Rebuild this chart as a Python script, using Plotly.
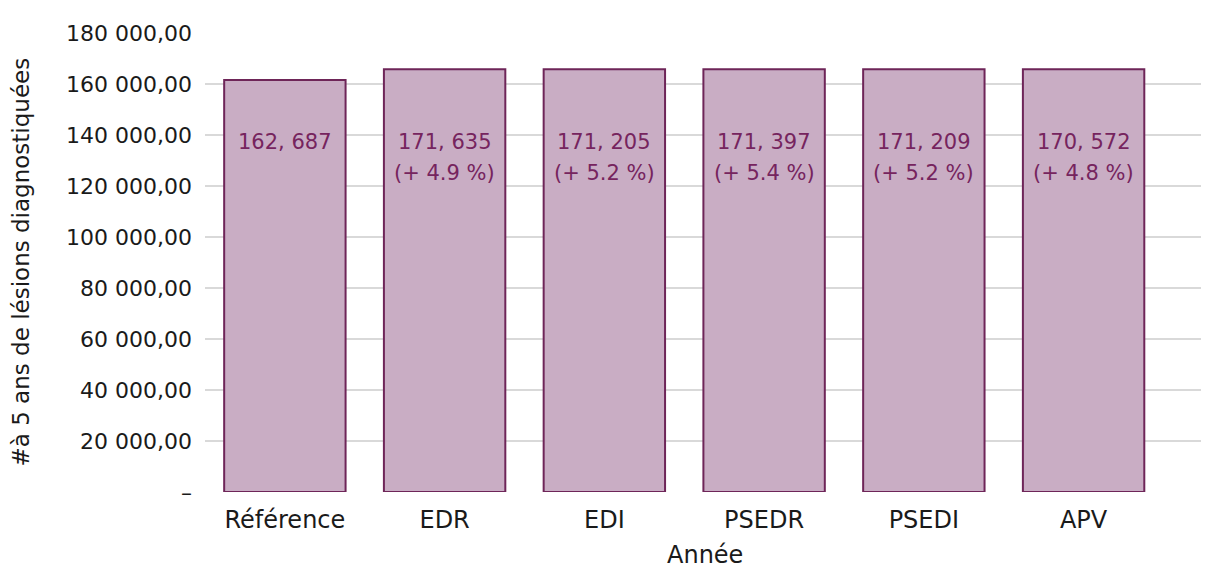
import plotly.graph_objects as go

categories = ["Référence", "EDR", "EDI", "PSEDR", "PSEDI", "APV"]
bar_values = [161600, 165800, 165800, 165800, 165800, 165800]
value_labels = ["162, 687", "171, 635", "171, 205", "171, 397", "171, 209", "170, 572"]
pct_labels = ["", "(+ 4.9 %)", "(+ 5.2 %)", "(+ 5.4 %)", "(+ 5.2 %)", "(+ 4.8 %)"]
y_tickvals = [0, 20000, 40000, 60000, 80000, 100000, 120000, 140000, 160000, 180000]
y_ticktext = ["–", "20 000,00", "40 000,00", "60 000,00", "80 000,00", "100 000,00",
              "120 000,00", "140 000,00", "160 000,00", "180 000,00"]

FONT = "'DejaVu Sans', sans-serif"
TEXT_COLOR = "#76245e"
INK = "#1a1a1a"

fig = go.Figure()
fig.add_trace(go.Bar(
    x=list(range(len(categories))), y=bar_values,
    marker=dict(color="#c9adc4", line=dict(color="#6e2558", width=2)),
    width=0.76, hoverinfo="skip",
))

annotations = []
for i, (v, p) in enumerate(zip(value_labels, pct_labels)):
    annotations.append(dict(x=i, y=137250, xref="x", yref="y", text=v,
                            showarrow=False, yanchor="middle", xanchor="center",
                            font=dict(family=FONT, size=21, color=TEXT_COLOR)))
    if p:
        annotations.append(dict(x=i, y=125100, xref="x", yref="y", text=p,
                                showarrow=False, yanchor="middle", xanchor="center",
                                font=dict(family=FONT, size=21, color=TEXT_COLOR)))
annotations.append(dict(x=0, y=0.5, xref="paper", yref="paper",
                        text="#à 5 ans de lésions diagnostiquées", textangle=-90,
                        showarrow=False, xanchor="center", yanchor="middle", xshift=-185,
                        font=dict(family=FONT, size=23, color=INK)))
annotations.append(dict(x=0.5, y=0, xref="paper", yref="paper", text="Année",
                        showarrow=False, xanchor="center", yanchor="middle", yshift=-63,
                        font=dict(family=FONT, size=24, color=INK)))

# page has an 8px body margin: figure drawn at (8, 8)
fig.update_layout(
    width=1201, height=561,
    margin=dict(l=197, r=4, t=25, b=77),
    paper_bgcolor="white", plot_bgcolor="white",
    showlegend=False,
    annotations=annotations,
    xaxis=dict(range=[-0.5, 5.76], tickvals=list(range(len(categories))),
               ticktext=categories, showgrid=False, zeroline=False, showline=False,
               tickfont=dict(family=FONT, size=24, color=INK),
               ticklabelstandoff=11),
    yaxis=dict(range=[0, 180000], tickvals=y_tickvals, ticktext=y_ticktext,
               showgrid=True, gridcolor="#d9d9d9", gridwidth=1.5,
               zeroline=False, showline=False,
               tickfont=dict(family=FONT, size=22, color=INK),
               ticklabelstandoff=12),
)

fig.write_html("out.html")
